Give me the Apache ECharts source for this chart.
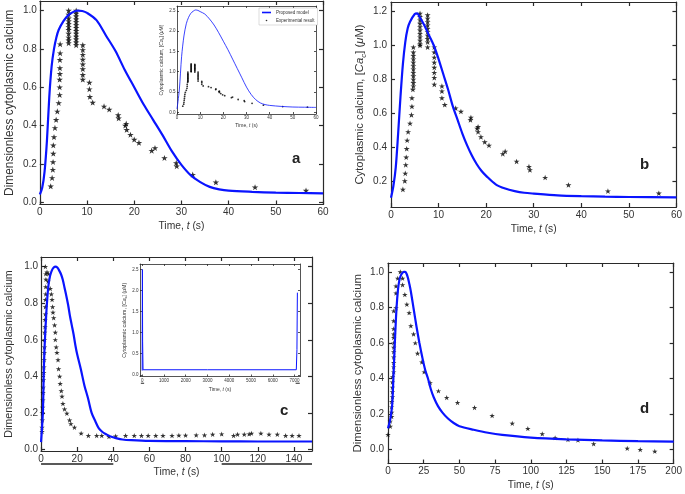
<!DOCTYPE html>
<html><head><meta charset="utf-8">
<script src="https://cdn.jsdelivr.net/npm/echarts@6/dist/echarts.min.js"></script>
<style>html,body{margin:0;padding:0;background:#fff}#c{width:685px;height:494px}</style>
</head><body><div id="c"></div><script>
// ---------- Panel a ----------
const aModelT = [0,0.5,1,1.5,2,2.5,3,3.5,4,5,6,7,8,9,10,12,14,16,18,20,22,24,26,28,30,32,34,36,38,40,45,50,55,60];
const aModelV = [0.04,0.075,0.16,0.32,0.55,0.71,0.80,0.86,0.90,0.945,0.975,0.992,1.0,0.998,0.988,0.95,0.87,0.79,0.69,0.60,0.51,0.43,0.35,0.265,0.195,0.14,0.105,0.08,0.067,0.06,0.054,0.05,0.048,0.046];
const aExpT = [2.3,2.6,2.75,2.8,2.85,2.85,3.0,3.2,3.45,3.7,4.0,4.2,4.2,4.2,4.25,4.25,4.25,4.3,4.3,
  6.1,6.1,6.1,6.1,6.1,6.1,6.1,6.1,6.1,6.1,6.1,
  7.7,7.7,7.7,7.7,7.7,7.7,7.7,7.7,7.7,7.7,7.7,7.7,7.7,
  9.1,9.1,9.1,9.1,9.1,9.1,9.1,9.1,
  10.5,10.5,10.6,11.2,13.6,14.7,16.6,16.7,18.1,18.3,18.4,19.2,20.0,21.0,23.7,24.4,26.4,28.9,29.0,32.4,37.3,45.6,56.4];
const aExpV = [0.083,0.127,0.17,0.21,0.254,0.297,0.34,0.388,0.43,0.474,0.518,0.56,0.60,0.64,0.67,0.70,0.743,0.778,0.825,
  1.0,0.98,0.96,0.945,0.93,0.915,0.90,0.88,0.86,0.845,0.83,
  1.0,0.985,0.97,0.955,0.94,0.925,0.91,0.895,0.88,0.865,0.85,0.835,0.82,
  0.82,0.795,0.77,0.745,0.72,0.695,0.665,0.64,
  0.625,0.59,0.55,0.52,0.50,0.484,0.455,0.438,0.40,0.41,0.378,0.352,0.327,0.31,0.269,0.283,0.231,0.205,0.188,0.144,0.104,0.078,0.061];
// inset of panel a (model in µM)
const iaModelT = [0,1,2,3,4,5,6,7,8,9,10,12,14,16,18,20,22,24,26,28,30,32,34,36,38,40,45,50,55,60];
const iaModelV = [0.08,0.55,1.38,1.88,2.18,2.34,2.44,2.49,2.52,2.51,2.48,2.42,2.3,2.15,1.96,1.75,1.54,1.31,1.08,0.85,0.62,0.44,0.31,0.23,0.19,0.17,0.145,0.13,0.125,0.12];
// ---------- Panel b ----------
const bModelT = [0,0.5,1,1.5,2,2.5,3,3.5,4,5,5.5,6,7,8,9,10,11,12,13,14,15,16,17,18,19,20,22,24,26,28,30,35,40,45,50,60];
const bModelV = [0.1,0.17,0.28,0.48,0.70,0.89,1.02,1.1,1.14,1.186,1.19,1.17,1.12,1.06,1.0,0.92,0.83,0.74,0.64,0.56,0.48,0.41,0.35,0.30,0.26,0.23,0.18,0.155,0.14,0.13,0.125,0.115,0.11,0.107,0.105,0.103];
const bExpT = [2.5,2.9,3.0,3.1,3.2,3.3,3.4,3.6,4.0,4.3,4.4,4.4,4.6,
  4.7,4.7,4.7,4.7,4.7,4.7,4.7,4.7,4.7,4.7,4.7,4.7,
  6.1,6.1,6.1,6.1,6.1,6.1,6.1,6.1,6.1,6.1,6.1,
  7.7,7.7,7.7,7.7,7.7,7.7,7.7,7.7,7.7,7.7,
  9.1,9.1,9.1,9.1,9.1,9.1,9.1,9.1,
  10.7,10.7,10.7,11.3,13.6,14.7,16.8,16.7,18.1,18.3,18.3,18.9,19.7,20.6,23.5,24.0,26.4,29.0,29.2,32.4,37.3,45.6,56.3];
const bExpV = [0.15,0.2,0.245,0.295,0.34,0.39,0.44,0.49,0.54,0.59,0.64,0.69,0.74,
  0.76,0.78,0.80,0.82,0.84,0.86,0.88,0.90,0.92,0.94,0.96,0.99,
  1.19,1.17,1.15,1.13,1.11,1.09,1.07,1.05,1.03,1.01,1.0,
  1.18,1.16,1.14,1.12,1.10,1.08,1.06,1.04,1.02,0.99,
  0.99,0.96,0.93,0.90,0.87,0.84,0.81,0.77,
  0.76,0.73,0.69,0.65,0.63,0.61,0.575,0.56,0.51,0.52,0.49,0.46,0.43,0.41,0.36,0.375,0.315,0.285,0.265,0.22,0.176,0.14,0.127];
// ---------- Panel c ----------
const cModelT = [0,1,1.5,2,3,4,5,6,7,8,9,10,11,12,13,14,15,16,17,18,19,20,22,24,26,28,30,32,34,36,38,40,42,45,50,60,80,100,120,150];
const cModelV = [0.04,0.2,0.42,0.57,0.76,0.89,0.95,0.98,0.995,1.0,0.995,0.98,0.96,0.93,0.885,0.84,0.79,0.73,0.68,0.63,0.57,0.52,0.44,0.35,0.28,0.20,0.155,0.115,0.095,0.083,0.072,0.066,0.06,0.054,0.05,0.046,0.045,0.044,0.043,0.043];
const cExpT = [0.55,0.55,0.7,0.7,0.9,1.0,1.1,1.2,1.3,1.5,1.6,1.7,1.8,1.9,2.0,2.0,2.2,2.2,2.4,2.4,2.4,2.6,2.6,2.7,2.6,2.4,
  3.3,4.2,3.9,5.1,5.7,6.1,6.4,6.6,7.0,7.5,7.9,7.9,8.4,8.8,9.4,9.7,10.3,10.6,11.2,11.6,12.1,13.0,14.3,15.8,16.5,18.5,22.2,
  26.2,30.8,33.6,37.6,41.3,46.8,51.6,55.6,59.3,63.5,67.5,72.5,76.3,80,85.9,90.5,95,100,106.6,108.8,112.5,115.2,116.5,121.7,126.2,130.8,135.4,139,142.8];
const cExpV = [0.097,0.12,0.16,0.2,0.23,0.27,0.31,0.34,0.38,0.42,0.45,0.49,0.53,0.56,0.6,0.64,0.67,0.71,0.74,0.78,0.82,0.85,0.89,0.93,0.96,1.0,
  0.97,0.96,0.92,0.88,0.85,0.82,0.78,0.75,0.72,0.68,0.64,0.6,0.56,0.53,0.49,0.44,0.40,0.36,0.32,0.29,0.25,0.22,0.197,0.16,0.14,0.12,0.088,
  0.075,0.075,0.075,0.07,0.073,0.075,0.075,0.075,0.075,0.075,0.075,0.075,0.077,0.077,0.078,0.078,0.082,0.084,0.075,0.082,0.082,0.084,0.088,0.088,0.082,0.082,0.075,0.075,0.075];
// inset of panel c (long run)
const icModelT = [0,3,10,20,40,100,3000,7080,7100,7110,7120,7130];
const icModelV = [0.1,1.2,2.5,0.8,0.12,0.12,0.12,0.12,0.12,0.6,1.3,1.95];
// range bars drawn below the c axes
const cBar1T = [0,40], cBar2T = [100,150], cBarV = [-0.08,-0.08];
const icBar1T = [-60,90], icBar2T = [7050,7240], icBarV = [-0.2,-0.2];
// ---------- Panel d ----------
const dModelT = [0,1,2,3,4,5,6,7,8,9,10,11,12,13,14,15,16,18,20,22,24,26,28,30,32,35,38,42,46,50,60,70,80,100,125,150,175,200];
const dModelV = [0.12,0.15,0.19,0.26,0.45,0.64,0.80,0.90,0.955,0.98,0.993,1.0,1.0,0.99,0.965,0.93,0.89,0.79,0.69,0.60,0.52,0.45,0.40,0.34,0.295,0.245,0.21,0.175,0.15,0.132,0.112,0.095,0.083,0.068,0.058,0.052,0.048,0.045];
const dExpT = [0,1.6,1.6,2.6,2.6,2.6,2.6,3.1,3.1,3.1,3.1,3.2,4.0,4.0,4.0,4.0,4.0,4.0,4.0,4.0,4.0,4.0,4.0,4.0,
  5.6,5.6,5.6,6.8,8.6,10.2,10.2,11.8,13.2,14.8,16.0,17.9,19.1,20.7,23.7,25.3,29.5,35.3,41.1,48.7,60.6,72.9,87,97.9,108,117,126,133,144,167.5,176.6,186.8];
const dExpV = [0.085,0.131,0.16,0.186,0.21,0.24,0.27,0.297,0.325,0.35,0.38,0.41,0.437,0.465,0.49,0.52,0.55,0.576,0.60,0.63,0.65,0.68,0.724,0.78,
  0.798,0.88,0.92,0.964,1.0,0.964,0.927,0.872,0.817,0.77,0.696,0.65,0.60,0.542,0.492,0.437,0.376,0.33,0.293,0.265,0.237,0.191,0.148,0.119,0.089,0.067,0.057,0.054,0.033,0.007,0.0,-0.009];
// ---------- tick labels ----------
const xTicks60 = [0,10,20,30,40,50,60];
const xTicksC = [0,20,40,60,80,100,120,140];
const xTicksD = [0,25,50,75,100,125,150,175,200];
const xTicksIC = [0,1000,2000,3000,4000,5000,6000,7000];
const yTicksUnit = [0,0.2,0.4,0.6,0.8,1.0];
const yTicksB = [0.2,0.4,0.6,0.8,1.0,1.2];
const yTicksInset = [0,0.5,1.0,1.5,2.0,2.5];

const zip = (t, v) => t.map((x, i) => [x, v[i]]);
const FONT = 'Liberation Sans';
const TXT = '#333';
const FRAME = '#2a2a2a';
const STAR = 'path://M50,0L61.8,35.1L98.9,35.1L68.8,56.7L80.3,91.9L50,70.2L19.7,91.9L31.2,56.7L1.1,35.1L38.2,35.1Z';
const BLUE = '#0a14ff';

const grids = [], xAxes = [], yAxes = [];
function rich(fs) {
  return {
    i: {fontStyle: 'italic', fontSize: fs, color: TXT, fontFamily: FONT, lineHeight: fs * 1.5},
    s: {fontStyle: 'italic', fontSize: fs * 0.7, color: TXT, fontFamily: FONT, verticalAlign: 'bottom', lineHeight: fs * 1.5}
  };
}
function addPanel(box, o) {
  const g = grids.length;
  grids.push(Object.assign({show: true, backgroundColor: '#fff', borderWidth: 0, containLabel: false}, box));
  const line = {show: true, onZero: false, lineStyle: {color: FRAME, width: o.fw}};
  const tick = {show: true, inside: true, length: o.tl, lineStyle: {color: FRAME, width: o.fw}};
  const lab = (vals, fmt, m) => ({customValues: vals, formatter: fmt, fontSize: o.fs, color: TXT, fontFamily: FONT, margin: m});
  const nts = (fs) => ({fontSize: fs, color: TXT, fontFamily: FONT, lineHeight: fs * 1.5, rich: rich(fs)});
  const xi = xAxes.length, yi = yAxes.length;
  xAxes.push({gridIndex: g, type: 'value', position: 'bottom', min: o.x[0], max: o.x[1],
    axisLine: line, axisTick: Object.assign({customValues: o.xt}, tick), axisLabel: lab(o.xt, o.xf, o.xm),
    splitLine: {show: false}, name: o.xn, nameLocation: 'middle', nameGap: o.xg, nameTextStyle: nts(o.xnf)});
  xAxes.push({gridIndex: g, type: 'value', position: 'top', min: o.x[0], max: o.x[1],
    axisLine: line, axisTick: Object.assign({customValues: o.xt}, tick), axisLabel: {show: false}, splitLine: {show: false}});
  yAxes.push({gridIndex: g, type: 'value', position: 'left', min: o.y[0], max: o.y[1],
    axisLine: line, axisTick: Object.assign({customValues: o.yt}, tick), axisLabel: lab(o.yt, o.yf, o.ym),
    splitLine: {show: false}, name: o.yn, nameLocation: 'middle', nameGap: o.yg, nameTextStyle: nts(o.ynf)});
  yAxes.push({gridIndex: g, type: 'value', position: 'right', min: o.y[0], max: o.y[1],
    axisLine: line, axisTick: Object.assign({customValues: o.yt}, tick), axisLabel: {show: false}, splitLine: {show: false}});
  return {xAxisIndex: xi, yAxisIndex: yi};
}
const f0 = v => String(Math.round(v));
const f1 = v => v.toFixed(1);
const TIME = 'Time, {i|t} (s)';
const DIM = 'Dimensionless cytoplasmic calcium';
const CAC = 'Cytoplasmic calcium, [{i|Ca}{s|c}] ({i|μ}M)';

const A = addPanel({left: 35, top: 1, width: 288, height: 203.5},
  {x: [0, 60], y: [-0.012, 1.05], xt: xTicks60, yt: yTicksUnit, xf: f0, yf: f1, fs: 10, xm: 3, ym: 3,
   xn: TIME, xg: 14, xnf: 10.3, yn: DIM, yg: 21, ynf: 11.9, tl: 4, fw: 1.2});
const B = addPanel({left: 391, top: 2, width: 289, height: 205},
  {x: [0, 60], y: [0.046, 1.257], xt: xTicks60, yt: yTicksB, xf: f0, yf: f1, fs: 10, xm: 3, ym: 4,
   xn: TIME, xg: 14, xnf: 10.3, yn: CAC, yg: 23, ynf: 11.3, tl: 4, fw: 1.2});
const C = addPanel({left: 39, top: 257, width: 273, height: 194},
  {x: [0, 150], y: [-0.009, 1.053], xt: xTicksC, yt: yTicksUnit, xf: f0, yf: f1, fs: 10, xm: 3, ym: 3,
   xn: TIME, xg: 12, xnf: 10.3, yn: DIM, yg: 24, ynf: 10.7, tl: 4, fw: 1.2});
const D = addPanel({left: 388, top: 263, width: 289, height: 203},
  {x: [0, 200], y: [-0.078, 1.05], xt: xTicksD, yt: yTicksUnit, xf: f0, yf: f1, fs: 10, xm: 3, ym: 4,
   xn: TIME, xg: 14, xnf: 10.3, yn: DIM, yg: 22, ynf: 11.4, tl: 4, fw: 1.2});
const IA = addPanel({left: 177, top: 6, width: 139, height: 108},
  {x: [0, 60], y: [-0.042, 2.618], xt: xTicks60, yt: yTicksInset, xf: f0, yf: f1, fs: 4.5, xm: 1.5, ym: 1.5,
   xn: TIME, xg: 8, xnf: 5, yn: CAC, yg: 9, ynf: 5, tl: 2, fw: 0.8});
const IC = addPanel({left: 140, top: 264, width: 160, height: 112.5},
  {x: [-100, 7250], y: [-0.04, 2.63], xt: xTicksIC, yt: yTicksInset, xf: f0, yf: f1, fs: 4.5, xm: 1.5, ym: 1.5,
   xn: TIME, xg: 9, xnf: 5, yn: CAC, yg: 11, ynf: 5.3, tl: 2, fw: 0.8});

const lineS = (ax, t, v, w, name) => Object.assign({type: 'line', name: name, data: zip(t, v), showSymbol: false, smooth: 0.3,
  lineStyle: {color: BLUE, width: w}, itemStyle: {color: BLUE}, silent: true}, ax);
const starS = (ax, t, v, sz) => Object.assign({type: 'scatter', name: 'exp', data: zip(t, v), symbol: STAR, symbolSize: sz,
  symbolKeepAspect: true, itemStyle: {color: '#000'}, silent: true}, ax);
const barS = (ax, t, v, w) => Object.assign({type: 'line', name: 'bar', data: zip(t, v), showSymbol: false, clip: false,
  lineStyle: {color: '#222', width: w}, silent: true}, ax);

const series = [
  lineS(A, aModelT, aModelV, 2.2, 'a model'), starS(A, aExpT, aExpV, 6.5),
  lineS(B, bModelT, bModelV, 2.2, 'b model'), starS(B, bExpT, bExpV, 6),
  lineS(C, cModelT, cModelV, 2.2, 'c model'), starS(C, cExpT, cExpV, 5.5),
  barS(C, cBar1T, cBarV, 1.6), barS(C, cBar2T, cBarV, 1.6),
  lineS(D, dModelT, dModelV, 2.2, 'd model'), starS(D, dExpT, dExpV, 5.5),
  lineS(IA, iaModelT, iaModelV, 0.8, 'Proposed model'),
  Object.assign({type: 'scatter', name: 'Experimental result', data: zip(bExpT, bExpV), symbol: 'circle', symbolSize: 1.8,
    itemStyle: {color: '#000'}, silent: true}, IA),
  Object.assign(lineS(IC, icModelT, icModelV, 1, 'ic model'), {smooth: false}),
  barS(IC, icBar1T, icBarV, 1), barS(IC, icBar2T, icBarV, 1)
];

const letter = (t, l, tp) => ({text: t, left: l, top: tp, padding: 0,
  textStyle: {fontSize: 15, fontWeight: 'bold', color: '#222', fontFamily: FONT}});

const chart = echarts.init(document.getElementById('c'), null, {renderer: 'canvas'});
chart.setOption({
  animation: false,
  backgroundColor: '#fff',
  title: [letter('a', 292, 151), letter('b', 640, 157), letter('c', 280, 403), letter('d', 640, 401)],
  legend: {data: [{name: 'Proposed model', icon: 'rect'}, {name: 'Experimental result', icon: 'circle'}],
    orient: 'vertical', left: 259, top: 8, itemWidth: 9, itemHeight: 1.6, itemGap: 3, padding: [2, 3, 2, 3],
    borderColor: '#bbb', borderWidth: 0.5, backgroundColor: '#fff', selectedMode: false,
    textStyle: {fontSize: 4.5, color: TXT, fontFamily: FONT}},
  grid: grids, xAxis: xAxes, yAxis: yAxes, series: series
});
</script></body></html>
